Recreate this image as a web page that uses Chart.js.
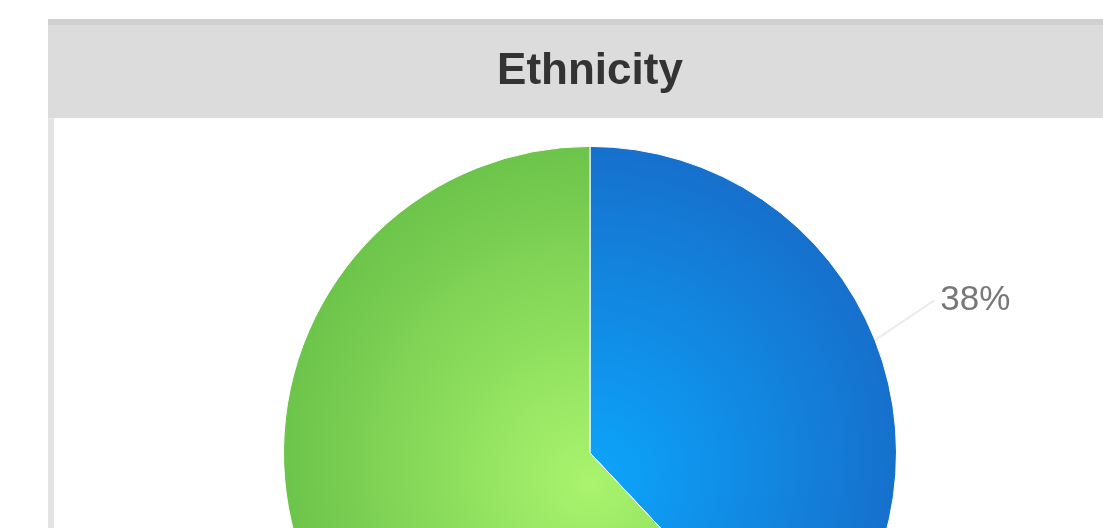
<!DOCTYPE html>
<html>
<head>
<meta charset="utf-8">
<script src="https://cdn.jsdelivr.net/npm/chart.js@4.4.1/dist/chart.umd.min.js"></script>
<style>
  html, body { margin: 0; padding: 0; background: #fff; overflow: hidden; }
</style>
</head>
<body>
<canvas id="myChart" width="1103" height="775"></canvas>
<script>
// values
const categories = ["Group A", "Group B"];
const shares = [38, 62];

// slice styling (radial shading like the original)
const innerColors = ["#0ca6fc", "#aaf46e"];
const outerColors = ["#1670cc", "#6cc44a"];

function sliceGradient(context) {
  const chart = context.chart;
  const area = chart.chartArea;
  if (!area) return innerColors[context.dataIndex];
  const cx = (area.left + area.right) / 2;
  const cy = (area.top + area.bottom) / 2;
  const r = Math.min(area.right - area.left, area.bottom - area.top) / 2;
  const g = chart.ctx.createRadialGradient(cx, cy + r * 0.1, 0, cx, cy, r);
  g.addColorStop(0, innerColors[context.dataIndex]);
  g.addColorStop(1, outerColors[context.dataIndex]);
  return g;
}

// gray title band and left frame line
const frame = {
  id: "frame",
  beforeDraw(chart) {
    const ctx = chart.ctx;
    ctx.save();
    ctx.fillStyle = "#ffffff";
    ctx.fillRect(0, 0, chart.width, chart.height);
    ctx.fillStyle = "#dcdcdc";
    ctx.fillRect(48, 19, chart.width - 48, 99);
    ctx.fillStyle = "#d0d0d0";
    ctx.fillRect(48, 19, chart.width - 48, 6);
    ctx.fillStyle = "#e4e4e4";
    ctx.fillRect(48, 118, 6, chart.height - 118);
    ctx.restore();
  },
};

// percentage labels with faint connectors
const sliceLabels = {
  id: "sliceLabels",
  afterDatasetsDraw(chart) {
    const ctx = chart.ctx;
    const meta = chart.getDatasetMeta(0);
    meta.data.forEach((arc, i) => {
      const p = arc.getProps(["x", "y", "startAngle", "endAngle", "outerRadius"], true);
      const mid = (p.startAngle + p.endAngle) / 2;
      const ex = p.x + Math.cos(mid) * p.outerRadius;
      const ey = p.y + Math.sin(mid) * p.outerRadius;
      const lx = p.x + Math.cos(mid) * (p.outerRadius + 108);
      const ly = p.y + Math.sin(mid) * (p.outerRadius + 108);
      const text = shares[i] + "%";
      ctx.save();
      ctx.font = "35px 'Liberation Sans', Arial, sans-serif";
      const w = ctx.measureText(text).width;
      const side = Math.cos(mid) >= 0 ? 1 : -1;
      ctx.strokeStyle = "#ebebeb";
      ctx.lineWidth = 2;
      ctx.beginPath();
      ctx.moveTo(ex, ey);
      ctx.lineTo(lx - side * (w / 2 + 6), ly);
      ctx.stroke();
      ctx.fillStyle = "#777777";
      ctx.textAlign = "center";
      ctx.textBaseline = "middle";
      ctx.fillText(text, lx, ly);
      ctx.restore();
    });
  },
};

const ctx = document.getElementById("myChart").getContext("2d");
new Chart(ctx, {
  type: "pie",
  data: {
    labels: categories,
    datasets: [
      {
        data: shares,
        backgroundColor: sliceGradient,
        borderColor: "#ffffff",
        borderWidth: 1,
      },
    ],
  },
  options: {
    responsive: false,
    animation: false,
    layout: { padding: { top: 20, left: 283, right: 206, bottom: 15 } },
    plugins: {
      legend: { display: false },
      tooltip: { enabled: false },
      title: {
        display: true,
        text: "Ethnicity",
        color: "#333333",
        font: { size: 44, weight: "bold", family: "'Liberation Sans', Arial, sans-serif" },
        padding: { top: 25, bottom: 48 },
      },
    },
  },
  plugins: [frame, sliceLabels],
});
</script>
</body>
</html>
